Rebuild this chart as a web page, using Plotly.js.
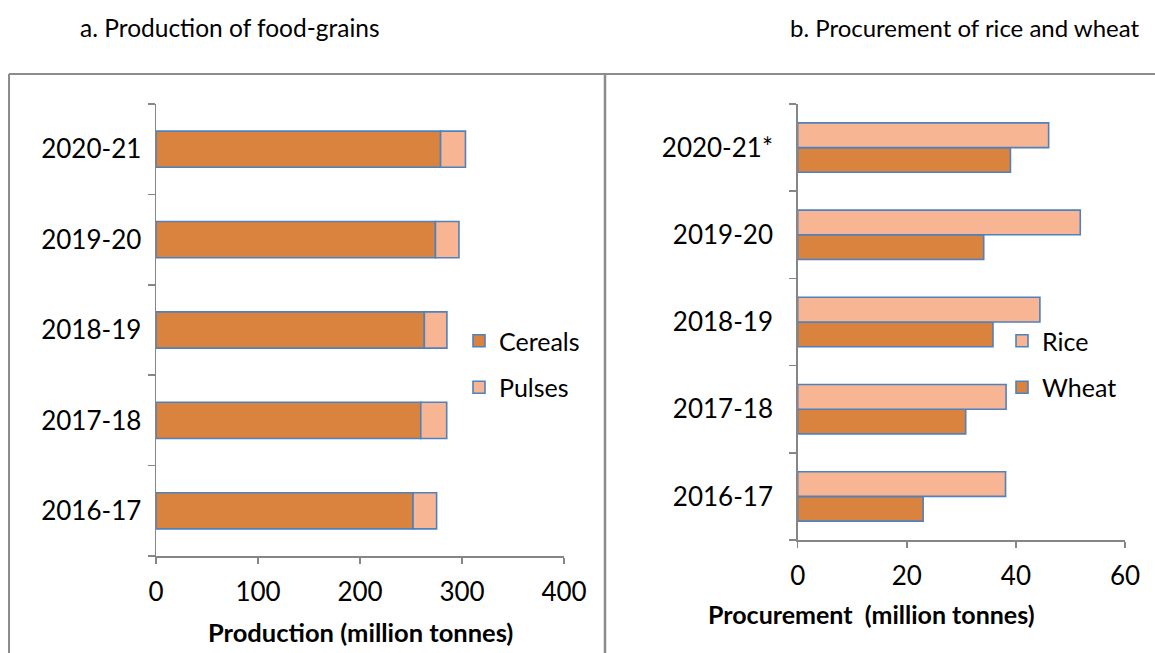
<!DOCTYPE html>
<html>
<head>
<meta charset="utf-8">
<script src="https://cdn.plot.ly/plotly-3.0.1.min.js"></script>
<style>html,body{margin:0;padding:0;background:#fff;}#chart{width:1155px;height:653px;}</style>
</head>
<body>
<div id="chart"></div>
<script>
// Panel a: production of food-grains (million tonnes)
var prodYears = ['2016-17', '2017-18', '2018-19', '2019-20', '2020-21'];
var cereals = [252.0, 259.6, 263.1, 274.0, 279.0];
var pulses = [23.1, 25.4, 22.1, 23.0, 24.4];

// Panel b: procurement of rice and wheat (million tonnes)
var procYears = ['2016-17', '2017-18', '2018-19', '2019-20', '2020-21*'];
var rice = [38.1, 38.2, 44.4, 51.8, 46.0];
var wheat = [23.0, 30.8, 35.8, 34.1, 39.0];

var W = 1155, H = 653;
function px(x) { return x / W; }
function py(y) { return 1 - y / H; }

var FONT = 'Lato, "Open Sans", sans-serif';
var ORANGE = '#D9833E', PEACH = '#F8B593', EDGE = '#4F81BD', GRID = '#868686';

var pulsesBase = cereals.slice();

var traces = [
  {type: 'bar', orientation: 'h', name: 'Cereals', y: prodYears, x: cereals,
   xaxis: 'x', yaxis: 'y', width: 0.4, legend: 'legend', legendgroup: 'c', legendrank: 1,
   marker: {color: ORANGE, line: {color: EDGE, width: 1.6}}, hoverinfo: 'x+y'},
  {type: 'bar', orientation: 'h', name: 'Pulses', y: prodYears, x: pulses, base: pulsesBase,
   xaxis: 'x', yaxis: 'y', width: 0.4, legend: 'legend', legendgroup: 'p', legendrank: 2,
   marker: {color: PEACH, line: {color: EDGE, width: 1.6}}, hoverinfo: 'x+y'},
  {type: 'bar', orientation: 'h', name: 'Wheat', y: procYears, x: wheat,
   xaxis: 'x2', yaxis: 'y2', width: 0.283, offset: -0.283, legend: 'legend2', legendgroup: 'w', legendrank: 2,
   marker: {color: ORANGE, line: {color: EDGE, width: 1.6}}, hoverinfo: 'x+y'},
  {type: 'bar', orientation: 'h', name: 'Rice', y: procYears, x: rice,
   xaxis: 'x2', yaxis: 'y2', width: 0.283, offset: 0, legend: 'legend2', legendgroup: 'r', legendrank: 1,
   marker: {color: PEACH, line: {color: EDGE, width: 1.6}}, hoverinfo: 'x+y'}
];

var axisCommon = {
  showline: true, linecolor: GRID, linewidth: 1.5, showgrid: false, zeroline: false,
  ticks: 'outside', tickcolor: GRID, tickwidth: 1.5,
  tickfont: {family: FONT, size: 26, color: '#000'}, fixedrange: true
};

function merge(a, b) { var o = {}; for (var k in a) o[k] = a[k]; for (var k2 in b) o[k2] = b[k2]; return o; }

var layout = {
  width: W, height: H,
  margin: {l: 0, r: 0, t: 0, b: 0},
  paper_bgcolor: '#fff', plot_bgcolor: '#fff',
  barmode: 'overlay',
  showlegend: true,
  font: {family: FONT, color: '#000'},
  xaxis: merge(axisCommon, {domain: [px(156), px(564)], range: [0, 400], dtick: 100, ticklen: 6,
    anchor: 'y', ticklabelstandoff: 6}),
  yaxis: merge(axisCommon, {domain: [py(556), py(104)], type: 'category', tickson: 'boundaries',
    ticklen: 7, anchor: 'x', ticklabelstandoff: 8}),
  xaxis2: merge(axisCommon, {domain: [px(797.7), px(1125)], range: [0, 60], dtick: 20, ticklen: 6,
    anchor: 'y2', ticklabelstandoff: 6}),
  yaxis2: merge(axisCommon, {domain: [py(540), py(104)], type: 'category', tickson: 'boundaries',
    ticklen: 7, anchor: 'x2', ticklabelstandoff: 18}),
  legend: {x: px(459), y: py(318), xanchor: 'left', yanchor: 'top', traceorder: 'grouped',
    tracegroupgap: 11, font: {family: FONT, size: 25, color: '#000'}, bgcolor: 'rgba(0,0,0,0)'},
  legend2: {x: px(1002), y: py(318), xanchor: 'left', yanchor: 'top', traceorder: 'grouped',
    tracegroupgap: 11, font: {family: FONT, size: 25, color: '#000'}, bgcolor: 'rgba(0,0,0,0)'},
  annotations: [
    {text: 'a. Production of food-grains', x: px(230), y: py(28), xref: 'paper', yref: 'paper',
     showarrow: false, xanchor: 'center', yanchor: 'middle', font: {family: FONT, size: 24.5, color: '#000'}},
    {text: 'b. Procurement of rice and wheat', x: px(965), y: py(28), xref: 'paper', yref: 'paper',
     showarrow: false, xanchor: 'center', yanchor: 'middle', font: {family: FONT, size: 24, color: '#000'}},
    {text: '<b>Production (million tonnes)</b>', x: px(361), y: py(632), xref: 'paper', yref: 'paper',
     showarrow: false, xanchor: 'center', yanchor: 'middle', font: {family: FONT, size: 25.5, color: '#000'}},
    {text: '<b>Procurement  (million tonnes)</b>', x: px(871), y: py(614), xref: 'paper', yref: 'paper',
     showarrow: false, xanchor: 'center', yanchor: 'middle', font: {family: FONT, size: 25, color: '#000'}}
  ],
  shapes: [
    {type: 'line', xref: 'paper', yref: 'paper', x0: px(9), x1: 1, y0: py(74), y1: py(74), line: {color: '#8C8C8C', width: 2}},
    {type: 'line', xref: 'paper', yref: 'paper', x0: px(9), x1: px(9), y0: py(74), y1: 0, line: {color: '#8C8C8C', width: 2}},
    {type: 'line', xref: 'paper', yref: 'paper', x0: px(605), x1: px(605), y0: py(74), y1: 0, line: {color: '#8C8C8C', width: 2.5}}
  ]
};

Plotly.newPlot('chart', traces, layout, {displayModeBar: false, staticPlot: true});
</script>
</body>
</html>
